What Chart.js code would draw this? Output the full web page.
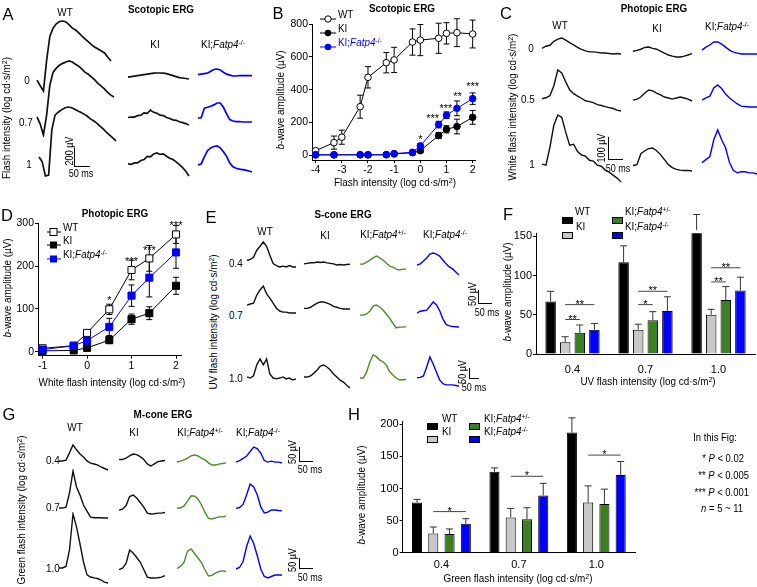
<!DOCTYPE html>
<html>
<head>
<meta charset="utf-8">
<script src="https://cdn.jsdelivr.net/npm/chart.js@4.4.1/dist/chart.umd.min.js"></script>
<style>
  body { margin: 0; background: #fff; }
  #fig { position: relative; width: 757px; height: 587px; overflow: hidden; background: #fff;
         font-family: 'Liberation Sans', Arial, sans-serif; color: #000; }
  .t { position: absolute; white-space: nowrap; line-height: 1; }
  .t sup { font-size: 70%; line-height: 0; vertical-align: 0.45em; }
  canvas { position: absolute; }
  .sb { position: absolute; box-sizing: border-box; border-left: 1.3px solid #000; border-bottom: 1.3px solid #000; }
</style>
</head>
<body>
<div id="fig"></div>
<script>
const FAM = "'Liberation Sans', Arial, sans-serif";
const BLK = '#111', BLUE = '#0000ff', GREEN = '#4b8b2b';
const NARROW = 0.86;   // labels in the figure use a condensed face

// ---- A: scotopic ERG traces (uV, 10 ms steps)
const A_WT_0 = [0,-60,-115,210,460,545,590,615,620,610,580,545,525,495,460,430,400,370,345,325,305,285,240,200];
const A_WT_07 = [0,-75,-190,20,335,470,515,545,565,580,590,580,555,535,505,470,450,420,390,355,325,295,260,230,210];
const A_WT_1 = [0,-50,-200,-190,285,440,470,495,515,525,520,505,485,470,450,430,400,380,355,325,295,260,230,200,170];
const A_KI_0 = [0,5,10,15,20,25,30,35,40,42,42,40,35,25,15,5,-5,-10,-15,-20];
const A_KI_07 = [0,5,5,20,25,50,45,80,55,45,25,20,0,-10,-25,-30,-45,-55,-65,-80];
const A_KI_1 = [0,-5,10,10,35,45,80,75,105,115,100,105,80,60,45,20,-10,-40,-80,-130];
const A_KO_0 = [0,5,10,15,35,55,60,50,25,5,-5,-15,-15,-10,-10,-12,-10,-10];
const A_KO_07 = [0,5,105,115,125,140,160,160,115,45,-15,-30,-35,-35,-40,-40,-40,-40];
const A_KO_1 = [0,10,85,150,180,195,200,180,140,90,20,-20,-35,-45,-50,-55,-65,-75];

// ---- C: photopic ERG traces (uV, 12.5 ms steps)
const C_WT_0 = [0,9,13,30,39,44,35,24,15,4,-4,-11,-15,-15,-17,-20,-20,-22,-24,-22,-24];
const C_WT_05 = [0,4,13,57,126,113,74,39,22,11,2,-9,-13,-17,-26,-30,-35,-39,-43,-50,-54];
const C_WT_1 = [0,-4,74,170,215,205,140,83,87,55,40,35,17,13,-4,-9,-26,-35,-48,-61,-78];
const C_KI_0 = [0,4,9,17,19,13,9,0,-9,-17,-22,-26,-26,-22,-17,-11];
const C_KI_05 = [0,4,13,30,43,39,30,22,13,9,4,9,13,9,4,-4];
const C_KI_1 = [0,4,52,65,74,77,65,48,26,4,-9,-17,-20,-22,-22,-24];
const C_KO_0 = [0,13,22,35,35,26,13,0,-9,-13,-17,-17,-17,-17,-17];
const C_KO_05 = [0,9,17,52,65,50,26,9,-4,-17,-26,-28,-30,-30,-30];
const C_KO_1 = [0,13,26,100,143,100,65,0,-35,-45,-40,-40,-45,-45,-50];

// ---- E: S-cone ERG traces (uV, 12.5 ms steps)
const E_WT_04 = [0,4,11,36,50,65,50,18,-11,-18,-23,-20,-23,-18,-23,-23];
const E_WT_07 = [0,4,7,36,54,68,40,25,7,-11,-21,-25,-25,-28,-28,-28];
const E_WT_10 = [0,-4,4,43,64,43,64,11,-4,-7,-4,0,-7,-4,-11,-7];
const E_KI_04 = [0,2,4,4,7,5,7,4,2,0,-4,-2,-4,-2,-1];
const E_KI_07 = [0,0,4,11,18,22,22,18,14,7,4,0,-2,-2,-2];
const E_KI_10 = [0,0,4,14,25,39,43,36,25,11,0,-11,-18,-29,-39];
const E_HET_04 = [0,0,7,14,22,29,22,14,4,-7,-11,-18,-21,-18,-18];
const E_HET_07 = [0,0,4,14,32,36,29,18,4,-11,-29,-46,-43,-43,-41];
const E_HET_10 = [0,0,21,57,82,76,64,58,46,23,11,0,-7,-6,-5];
const E_KO_04 = [0,4,14,25,39,43,39,32,18,4,-7,-14,-25,-36];
const E_KO_07 = [0,7,9,11,25,40,30,10,-20,-40,-45,-47,-48,-49];
const E_KO_10 = [0,2,7,39,75,50,21,-7,-21,-25,-25,-25,-27,-29];

// ---- G: M-cone ERG traces (uV, 12.5 ms steps)
const G_WT_04 = [0,0,3,27,53,37,23,13,0,-7,-10,-13,-20,-25,-30];
const G_WT_07 = [0,0,3,50,123,70,43,10,-10,-30,-32,-32,-32,-33,-33];
const G_WT_10 = [0,0,5,60,180,137,80,20,-23,-30,-33,-35,-40,-47,-50];
const G_KI_04 = [0,0,5,13,19,17,10,0,-15,-22,-15,-7,-5,-3];
const G_KI_07 = [0,3,15,45,50,40,25,10,-10,-13,-12,-10,-10,-8];
const G_KI_10 = [0,5,20,65,55,40,25,0,-25,-28,-28,-27,-25,-20];
const G_HET_04 = [0,3,7,13,20,23,20,13,7,-3,-10,-10,-7,-5,-3];
const G_HET_07 = [0,0,7,23,40,40,30,10,-15,-35,-37,-33,-30,-30,-28];
const G_HET_10 = [0,7,20,58,65,50,35,20,-5,-25,-23,-15,-10,-8,-10];
const G_KO_04 = [0,5,12,20,35,50,45,30,5,0,3,0,0,-3];
const G_KO_07 = [0,3,13,45,80,70,45,5,-15,-12,-5,-5,-7,-8];
const G_KO_10 = [0,5,25,75,110,85,45,0,-25,-30,-25,-20,-20,-20];

// ---- B: scotopic b-wave amplitude
const B_X_WT = [-4, -3.3, -3, -2.3, -2, -1.3, -1, -0.3, 0, 0.7, 1, 1.4, 2];
const B_WT = [28, 77, 110, 296, 475, 564, 581, 690, 702, 713, 743, 747, 739];
const B_WT_ERR = [0, 40, 43, 70, 65, 62, 77, 80, 95, 92, 65, 85, 85];
const B_X_KI = [-4, -3.3, -2.3, -2, -1.3, -1, -0.3, 0, 0.7, 1, 1.4, 2];
const B_KI = [2, 2, 3, 2, 3, 8, 15, 28, 120, 158, 175, 231];
const B_KI_ERR = [0, 0, 0, 0, 0, 3, 5, 10, 18, 22, 45, 42];
const B_KO = [3, 3, 3, 3, 4, 10, 18, 57, 187, 244, 286, 345];
const B_KO_ERR = [0, 0, 0, 0, 0, 3, 5, 12, 20, 20, 45, 35];
const B_XTICKS = [-4, -3, -2, -1, 0, 1, 2];
const B_YTICKS = [0, 200, 400, 600, 800];
const B_STARS = [{x: 0, y: 114, t: '*'}, {x: 0.47, y: 240, t: '***'}, {x: 0.98, y: 300, t: '***'},
                 {x: 1.42, y: 374, t: '**'}, {x: 2, y: 434, t: '***'}];

// ---- D: photopic b-wave amplitude
const D_X = [-1, -0.3, 0, 0.5, 1, 1.4, 2];
const D_WT = [8, 14, 44, 99, 191, 218, 274];
const D_WT_ERR = [3, 3, 5, 12, 23, 30, 21];
const D_KI = [2, 3, 9, 27, 76, 90, 154];
const D_KI_ERR = [2, 2, 4, 8, 12, 15, 20];
const D_KO = [5, 14, 26, 58, 131, 173, 232];
const D_KO_ERR = [2, 4, 6, 20, 25, 45, 37];
const D_XTICKS = [-1, 0, 1, 2];
const D_YTICKS = [0, 100, 200, 300];
const D_STARS = [{x: 0.5, y: 125, t: '*'}, {x: 1, y: 216, t: '***'}, {x: 1.4, y: 243, t: '***'}, {x: 2, y: 300, t: '***'}];

// ---- F: S-cone b-wave bars
const F_CATS = ['0.4', '0.7', '1.0'];
const F_WT = [67, 117, 158], F_WT_ERR = [13, 21, 20];
const F_KI = [15, 31, 50], F_KI_ERR = [7, 7, 7];
const F_HET = [27, 43, 69], F_HET_ERR = [10, 11, 17];
const F_KO = [31, 55, 81], F_KO_ERR = [8, 18, 17];
const F_YTICKS = [0, 50, 100, 150];
const F_SIG = [{cat: 0, a: 1, b: 3, y: 63, t: '**'}, {cat: 0, a: 1, b: 2, y: 44, t: '**'},
               {cat: 1, a: 1, b: 3, y: 80, t: '**'}, {cat: 1, a: 1, b: 2, y: 63, t: '*'},
               {cat: 2, a: 1, b: 3, y: 110, t: '**'}, {cat: 2, a: 1, b: 2, y: 92, t: '**'}];

// ---- H: M-cone b-wave bars
const H_CATS = ['0.4', '0.7', '1.0'];
const H_WT = [78, 126, 187], H_WT_ERR = [5, 6, 23];
const H_KI = [30, 55, 78], H_KI_ERR = [10, 14, 26];
const H_HET = [29, 52, 76], H_HET_ERR = [8, 18, 23];
const H_KO = [45, 89, 121], H_KO_ERR = [8, 19, 21];
const H_YTICKS = [0, 50, 100, 150, 200];
const H_SIG = [{cat: 0, a: 1, b: 3, y: 64, t: '*'}, {cat: 1, a: 1, b: 3, y: 119, t: '*'}, {cat: 2, a: 1, b: 3, y: 152, t: '*'}];

Chart.defaults.font.family = FAM;
Chart.defaults.color = '#000';
Chart.defaults.animation = false;

const fig = document.getElementById('fig');

function T(html, x, y, o = {}) {
  const d = document.createElement('div');
  d.className = 't';
  d.innerHTML = html;
  d.style.left = x + 'px';
  d.style.top = y + 'px';
  d.style.fontSize = (o.size || 11.5) + 'px';
  if (o.bold) d.style.fontWeight = 'bold';
  if (o.color) d.style.color = o.color;
  let tr, org;
  if (o.align === 'left') { tr = 'translate(0,-50%)'; org = '0 50%'; }
  else if (o.align === 'right') { tr = 'translate(-100%,-50%)'; org = '100% 50%'; }
  else { tr = 'translate(-50%,-50%)'; org = '50% 50%'; }
  if (o.rot) tr += ' rotate(-90deg)';
  if (!o.wide) tr += ` scaleX(${NARROW})`;
  d.style.transformOrigin = org;
  d.style.transform = tr;
  fig.appendChild(d);
}
function SB(x, y0, y1, x1) {
  const d = document.createElement('div');
  d.className = 'sb';
  d.style.cssText += `left:${x}px;top:${y0}px;width:${x1 - x}px;height:${y1 - y0}px`;
  fig.appendChild(d);
}
function MK(x, y, w, h, inner) {
  const d = document.createElement('div');
  d.style.cssText = `position:absolute;left:${x - w / 2}px;top:${y - h / 2}px;width:${w}px;height:${h}px`;
  d.innerHTML = `<svg width="${w}" height="${h}" xmlns="http://www.w3.org/2000/svg">${inner}</svg>`;
  fig.appendChild(d);
}
function canvasAt(x, y, w, h) {
  const c = document.createElement('canvas');
  c.width = w; c.height = h;
  c.style.left = x + 'px'; c.style.top = y + 'px';
  c.style.width = w + 'px'; c.style.height = h + 'px';
  fig.appendChild(c);
  return c;
}

// ---------- trace panels
const TRACE_SCALE = {
  A: {uvPerPx: 10.5, msPerPx: 50 / 16, dt: 10, lw: 1.7},
  C: {uvPerPx: 100 / 23, msPerPx: 50 / 15.7, dt: 12.5, lw: 1.4},
  E: {uvPerPx: 3.57, msPerPx: 50 / 13, dt: 12.5, lw: 1.4},
  G: {uvPerPx: 3.33, msPerPx: 50 / 14, dt: 12.5, lw: 1.4}
};
// panel, trace, left x, baseline y, colour
const TRACES = [
  ['A', A_WT_0, 37, 80, BLK], ['A', A_WT_07, 37, 117, BLK], ['A', A_WT_1, 39, 157, BLK],
  ['A', A_KI_0, 128, 77, BLK], ['A', A_KI_07, 128, 118, BLK], ['A', A_KI_1, 128, 164, BLK],
  ['A', A_KO_0, 198, 75, BLUE], ['A', A_KO_07, 198, 118, BLUE], ['A', A_KO_1, 198, 165, BLUE],
  ['C', C_WT_0, 542, 48, BLK], ['C', C_WT_05, 542, 99, BLK], ['C', C_WT_1, 542, 164, BLK],
  ['C', C_KI_0, 633, 51, BLK], ['C', C_KI_05, 633, 100, BLK], ['C', C_KI_1, 633, 166, BLK],
  ['C', C_KO_0, 702, 50, BLUE], ['C', C_KO_05, 702, 100, BLUE], ['C', C_KO_1, 702, 163, BLUE],
  ['E', E_WT_04, 247, 260, BLK], ['E', E_WT_07, 247, 305, BLK], ['E', E_WT_10, 247, 377, BLK],
  ['E', E_KI_04, 304, 264, BLK], ['E', E_KI_07, 304, 308, BLK], ['E', E_KI_10, 304, 377, BLK],
  ['E', E_HET_04, 360, 264, GREEN], ['E', E_HET_07, 360, 315, GREEN], ['E', E_HET_10, 360, 378, GREEN],
  ['E', E_KO_04, 417, 265, BLUE], ['E', E_KO_07, 417, 313, BLUE], ['E', E_KO_10, 417, 378, BLUE],
  ['G', G_WT_04, 59, 461, BLK], ['G', G_WT_07, 59, 508, BLK], ['G', G_WT_10, 59, 568, BLK],
  ['G', G_KI_04, 119, 460, BLK], ['G', G_KI_07, 119, 510, BLK], ['G', G_KI_10, 119, 570, BLK],
  ['G', G_HET_04, 177, 462, GREEN], ['G', G_HET_07, 177, 508, GREEN], ['G', G_HET_10, 177, 569, GREEN],
  ['G', G_KO_04, 236, 462, BLUE], ['G', G_KO_07, 236, 508, BLUE], ['G', G_KO_10, 236, 569, BLUE]
];

function drawTrace(panel, vals, x0, base, color) {
  const s = TRACE_SCALE[panel];
  const dur = (vals.length - 1) * s.dt;
  const hi = Math.max(...vals), lo = Math.min(...vals);
  const pad = 2;
  const w = Math.round(dur / s.msPerPx + 2 * pad), h = Math.round((hi - lo) / s.uvPerPx + 2 * pad);
  const cv = canvasAt(x0 - pad, base - hi / s.uvPerPx - pad, w, h);
  new Chart(cv, {
    type: 'line',
    data: {datasets: [{data: vals.map((v, i) => ({x: i * s.dt, y: v})), borderColor: color,
                       borderWidth: s.lw, pointRadius: 0, tension: 0, clip: false}]},
    options: {
      responsive: false, events: [], layout: {padding: pad},
      plugins: {legend: {display: false}, tooltip: {enabled: false}},
      scales: {x: {type: 'linear', display: false, min: 0, max: dur}, y: {display: false, min: lo, max: hi}}
    }
  });
}
TRACES.forEach(t => drawTrace(...t));

// ---------- plugins for the amplitude plots
function drawErr(chart) {
  const ctx = chart.ctx, isBar = chart.config.type === 'bar';
  chart.data.datasets.forEach((ds, i) => {
    if (!ds.err) return;
    const meta = chart.getDatasetMeta(i);
    const ys = chart.scales[meta.yAxisID];
    ctx.save();
    ctx.strokeStyle = isBar ? '#333' : '#000';
    ctx.lineWidth = 1;
    meta.data.forEach((el, j) => {
      const e = ds.err[j];
      if (!e) return;
      const v = typeof ds.data[j] === 'object' ? ds.data[j].y : ds.data[j];
      const top = ys.getPixelForValue(v + e);
      const bot = isBar ? el.y : ys.getPixelForValue(v - e);
      const cw = isBar ? 3.5 : 3;
      ctx.beginPath();
      ctx.moveTo(el.x, top); ctx.lineTo(el.x, bot);
      ctx.moveTo(el.x - cw, top); ctx.lineTo(el.x + cw, top);
      if (!isBar) { ctx.moveTo(el.x - cw, bot); ctx.lineTo(el.x + cw, bot); }
      ctx.stroke();
    });
    ctx.restore();
  });
}
const errBars = {
  id: 'errBars',
  beforeDatasetsDraw(chart) { if (chart.config.type !== 'bar') drawErr(chart); },
  afterDatasetsDraw(chart) { if (chart.config.type === 'bar') drawErr(chart); }
};
const marks = {
  id: 'marks',
  afterDatasetsDraw(chart, args, opts) {
    const ctx = chart.ctx, xs = chart.scales.x, ys = chart.scales.y;
    ctx.save();
    ctx.fillStyle = '#000'; ctx.strokeStyle = '#444'; ctx.lineWidth = 1;
    ctx.font = `11px ${FAM}`;
    ctx.textAlign = 'center'; ctx.textBaseline = 'alphabetic';
    (opts.stars || []).forEach(s => ctx.fillText(s.t, xs.getPixelForValue(s.x), ys.getPixelForValue(s.y) + 6));
    (opts.sig || []).forEach(s => {
      const x1 = chart.getDatasetMeta(s.a).data[s.cat].x, x2 = chart.getDatasetMeta(s.b).data[s.cat].x;
      const y = ys.getPixelForValue(s.y);
      ctx.beginPath(); ctx.moveTo(x1, y); ctx.lineTo(x2, y); ctx.stroke();
      ctx.fillText(s.t, (x1 + x2) / 2, y + 3);
    });
    ctx.restore();
  }
};

function linScale(min, max, ticks, fit, size) {
  return {
    type: 'linear', min: min, max: max,
    afterBuildTicks: s => { s.ticks = ticks.map(v => ({value: v})); },
    afterFit: s => { if (s.isHorizontal()) s.height = fit; else s.width = fit; },
    grid: {drawOnChartArea: false, drawTicks: true, tickLength: 3, color: '#000', lineWidth: 1},
    border: {display: true, color: '#000', width: 1},
    ticks: {padding: 1, color: '#000', font: {size: size}}
  };
}
function catScale(fit, pad) {
  return {
    type: 'category',
    afterFit: s => { s.height = fit; },
    grid: {display: false, drawTicks: false},
    border: {display: true, color: '#000', width: 1},
    ticks: {padding: pad, color: '#000', font: {size: 11}}
  };
}
const baseOpts = {responsive: false, events: [], plugins: {legend: {display: false}, tooltip: {enabled: false}}};
const xy = (xs, ys) => xs.map((x, i) => ({x: x, y: ys[i]}));

// B
new Chart(canvasAt(250, 0, 257, 200), {
  type: 'line',
  data: {datasets: [
    {data: xy(B_X_KI, B_KO), err: B_KO_ERR, borderColor: BLUE, borderWidth: 1, pointRadius: 3.3,
     pointBackgroundColor: BLUE, pointBorderColor: BLUE, clip: false},
    {data: xy(B_X_KI, B_KI), err: B_KI_ERR, borderColor: '#000', borderWidth: 1, pointRadius: 3.3,
     pointBackgroundColor: '#000', pointBorderColor: '#000', clip: false},
    {data: xy(B_X_WT, B_WT), err: B_WT_ERR, borderColor: '#000', borderWidth: 1, pointRadius: 3.3,
     pointBackgroundColor: '#fff', pointBorderColor: '#000', pointBorderWidth: 1, clip: false}
  ]},
  options: Object.assign({}, baseOpts, {
    layout: {padding: {left: 0, top: 24, right: 32, bottom: 0}},
    plugins: Object.assign({}, baseOpts.plugins, {marks: {stars: B_STARS}}),
    scales: {x: linScale(-4.14, 2.09, B_XTICKS, 40, 10.5), y: linScale(-29, 800, B_YTICKS, 62, 10.5)}
  }),
  plugins: [errBars, marks]
});

// D
new Chart(canvasAt(0, 205, 200, 190), {
  type: 'line',
  data: {datasets: [
    {data: xy(D_X, D_KO), err: D_KO_ERR, borderColor: BLUE, borderWidth: 1, pointStyle: 'rect', pointRadius: 5,
     pointBackgroundColor: BLUE, pointBorderColor: BLUE, clip: false},
    {data: xy(D_X, D_KI), err: D_KI_ERR, borderColor: '#000', borderWidth: 1, pointStyle: 'rect', pointRadius: 5,
     pointBackgroundColor: '#000', pointBorderColor: '#000', clip: false},
    {data: xy(D_X, D_WT), err: D_WT_ERR, borderColor: '#000', borderWidth: 1, pointStyle: 'rect', pointRadius: 5,
     pointBackgroundColor: '#fff', pointBorderColor: '#000', pointBorderWidth: 1, clip: false}
  ]},
  options: Object.assign({}, baseOpts, {
    layout: {padding: {left: 0, top: 18.3, right: 18.3, bottom: 0}},
    plugins: Object.assign({}, baseOpts.plugins, {marks: {stars: D_STARS}}),
    scales: {x: linScale(-1.103, 2.128, D_XTICKS, 39.3, 10.5), y: linScale(-9.3, 300, D_YTICKS, 38, 10.5)}
  }),
  plugins: [errBars, marks]
});

function barSets(wt, wtE, ki, kiE, het, hetE, ko, koE, cp, bp) {
  const common = {borderColor: '#000', borderWidth: 1, categoryPercentage: cp, barPercentage: bp};
  return [
    Object.assign({data: wt, err: wtE, backgroundColor: '#000'}, common),
    Object.assign({data: ki, err: kiE, backgroundColor: '#c8c8c8'}, common),
    Object.assign({data: het, err: hetE, backgroundColor: '#3f7f24'}, common),
    Object.assign({data: ko, err: koE, backgroundColor: '#0000ff'}, common)
  ];
}

// F
new Chart(canvasAt(500, 205, 257, 190), {
  type: 'bar',
  data: {labels: F_CATS, datasets: barSets(F_WT, F_WT_ERR, F_KI, F_KI_ERR, F_HET, F_HET_ERR, F_KO, F_KO_ERR, 0.8, 0.72)},
  options: Object.assign({}, baseOpts, {
    layout: {padding: {left: 0, top: 28.3, right: 2, bottom: 0}},
    plugins: Object.assign({}, baseOpts.plugins, {marks: {sig: F_SIG}}),
    scales: {x: catScale(41, 9), y: linScale(0, 154, F_YTICKS, 36, 11)}
  }),
  plugins: [errBars, marks]
});

// H
new Chart(canvasAt(350, 400, 300, 187), {
  type: 'bar',
  data: {labels: H_CATS, datasets: barSets(H_WT, H_WT_ERR, H_KI, H_KI_ERR, H_HET, H_HET_ERR, H_KO, H_KO_ERR, 0.84, 0.62)},
  options: Object.assign({}, baseOpts, {
    layout: {padding: {left: 0, top: 21.7, right: 15, bottom: 0}},
    plugins: Object.assign({}, baseOpts.plugins, {marks: {sig: H_SIG}}),
    scales: {x: catScale(34.3, 6), y: linScale(0, 204, H_YTICKS, 52.7, 11)}
  }),
  plugins: [errBars, marks]
});

// ---------- text, legends, scale bars
const KO = 'KI;<i>Fatp4</i><sup>-/-</sup>', HET = 'KI;<i>Fatp4</i><sup>+/-</sup>';
const LOGU = '(log cd·s/m<sup>2</sup>)';
const BW = '<i>b</i>-wave amplitude (µV)';
const LET = {size: 16.5, wide: true};

// A
T('A', 8, 14, LET);
T('WT', 65, 13);
T('Scotopic ERG', 161, 10, {bold: true, size: 11.5});
T('KI', 155, 45);
T(KO, 223, 45);
T('Flash intensity ' + LOGU, 7, 118, {rot: true});
T('0', 27, 81); T('0.7', 26, 123); T('1', 29, 165);
SB(74, 148, 167, 90); T('200 µV', 69, 151, {rot: true, size: 10.5}); T('50 ms', 81, 173, {size: 10.5});

// B
T('B', 278, 13, LET);
T('Scotopic ERG', 402, 9, {bold: true, size: 11.5});
MK(328, 14.5, 18, 10, '<line x1="1" y1="5" x2="17" y2="5" stroke="#000"/><circle cx="9" cy="5" r="3.2" fill="#fff" stroke="#000"/>');
MK(328, 28.5, 18, 10, '<line x1="1" y1="5" x2="17" y2="5" stroke="#000"/><circle cx="9" cy="5" r="3.3" fill="#000"/>');
MK(328, 43, 18, 10, '<line x1="1" y1="5" x2="17" y2="5" stroke="#00f"/><circle cx="9" cy="5" r="3.3" fill="#00f"/>');
T('WT', 338, 14.5, {align: 'left'}); T('KI', 338, 28.5, {align: 'left'}); T(KO, 338, 43, {align: 'left', color: BLUE});
T(BW, 281, 100, {rot: true});
T('Flash intensity ' + LOGU, 395, 183);

// C
T('C', 506, 13, LET);
T('Photopic ERG', 654, 9, {bold: true, size: 11.5});
T('WT', 560, 26); T('KI', 657, 29); T(KO, 727, 27);
T('White flash intensity ' + LOGU, 513, 107, {rot: true});
T('0', 531, 49); T('0.5', 528, 100); T('1', 532, 165);
SB(608, 137, 160, 623); T('100 µV', 601, 148, {rot: true, size: 10.5}); T('50 ms', 618, 168, {size: 10.5});

// D
T('D', 7, 215, LET);
T('Photopic ERG', 115, 214, {bold: true, size: 11.5});
MK(54, 228, 14, 10, '<line x1="0" y1="5" x2="14" y2="5" stroke="#000"/><rect x="3" y="1.5" width="7" height="7" fill="#fff" stroke="#000"/>');
MK(54, 241, 14, 10, '<line x1="0" y1="5" x2="14" y2="5" stroke="#000"/><rect x="3" y="1.5" width="7" height="7" fill="#000"/>');
MK(54, 255, 14, 10, '<line x1="0" y1="5" x2="14" y2="5" stroke="#00f"/><rect x="3" y="1.5" width="7" height="7" fill="#00f"/>');
T('WT', 63, 228, {align: 'left'}); T('KI', 63, 241, {align: 'left'}); T(KO, 63, 255, {align: 'left'});
T(BW, 8, 288, {rot: true});
T('White flash intensity ' + LOGU, 112, 383);

// E
T('E', 211, 217, LET);
T('S-cone ERG', 343, 215, {bold: true, size: 11.5});
T('WT', 265, 232); T('KI', 325, 236); T(HET, 383, 235); T(KO, 445, 235);
T('UV flash intensity ' + LOGU, 214, 322, {rot: true});
T('0.4', 236, 264); T('0.7', 236, 316); T('1.0', 236, 379);
SB(478, 290, 304, 492); T('50 µV', 472, 294, {rot: true, size: 10.5}); T('50 ms', 487, 312, {size: 10.5});
SB(469, 368, 379, 479); T('50 µV', 462, 372, {rot: true, size: 10.5}); T('50 ms', 474, 387, {size: 10.5});

// F
T('F', 508, 214, LET);
const swatch = c => `<rect x="0.5" y="0.5" width="10" height="6" fill="${c}" stroke="#000"/>`;
MK(567, 213, 11, 7, swatch('#000')); T('WT', 575, 212, {align: 'left'});
MK(567, 228, 11, 7, swatch('#c8c8c8')); T('KI', 576, 227, {align: 'left'});
MK(617, 213, 11, 7, swatch('#3f7f24')); T(HET, 625, 212, {align: 'left'});
MK(617, 228, 11, 7, swatch('#0000ff')); T(KO, 625, 227, {align: 'left'});
T(BW, 508, 292, {rot: true});
T('UV flash intensity ' + LOGU, 648, 382);

// G
T('G', 9, 414, LET);
T('M-cone ERG', 163, 415, {bold: true, size: 11.5});
T('WT', 75, 428); T('KI', 134, 433); T(HET, 200, 433); T(KO, 258, 433);
T('Green flash intensity ' + LOGU, 22, 510, {rot: true});
T('0.4', 53, 461); T('0.7', 53, 508); T('1.0', 53, 569);
SB(299, 447, 462, 313); T('50 µV', 292, 452, {rot: true, size: 10.5}); T('50 ms', 310, 469, {size: 10.5});
SB(299, 558, 569, 313); T('50 µV', 292, 560, {rot: true, size: 10.5}); T('50 ms', 310, 577, {size: 10.5});

// H
T('H', 354, 414, LET);
MK(432, 419.5, 11, 7, swatch('#000')); T('WT', 442, 419, {align: 'left'});
MK(432, 432, 11, 7, swatch('#c8c8c8')); T('KI', 442, 432, {align: 'left'});
MK(474, 419.5, 11, 7, swatch('#3f7f24')); T(HET, 484, 419, {align: 'left'});
MK(474, 432, 11, 7, swatch('#0000ff')); T(KO, 484, 432, {align: 'left'});
T(BW, 362, 495, {rot: true});
T('Green flash intensity ' + LOGU, 518, 579);

// note
T('In this Fig:', 715, 437, {size: 11});
T('* <i>P</i> &lt; 0.02', 744, 458, {align: 'right', size: 11});
T('** <i>P</i> &lt; 0.005', 749, 475, {align: 'right', size: 11});
T('*** <i>P</i> &lt; 0.001', 749, 492, {align: 'right', size: 11});
T('<i>n</i> = 5 ~ 11', 743, 508, {align: 'right', size: 11});
</script>
</body>
</html>
